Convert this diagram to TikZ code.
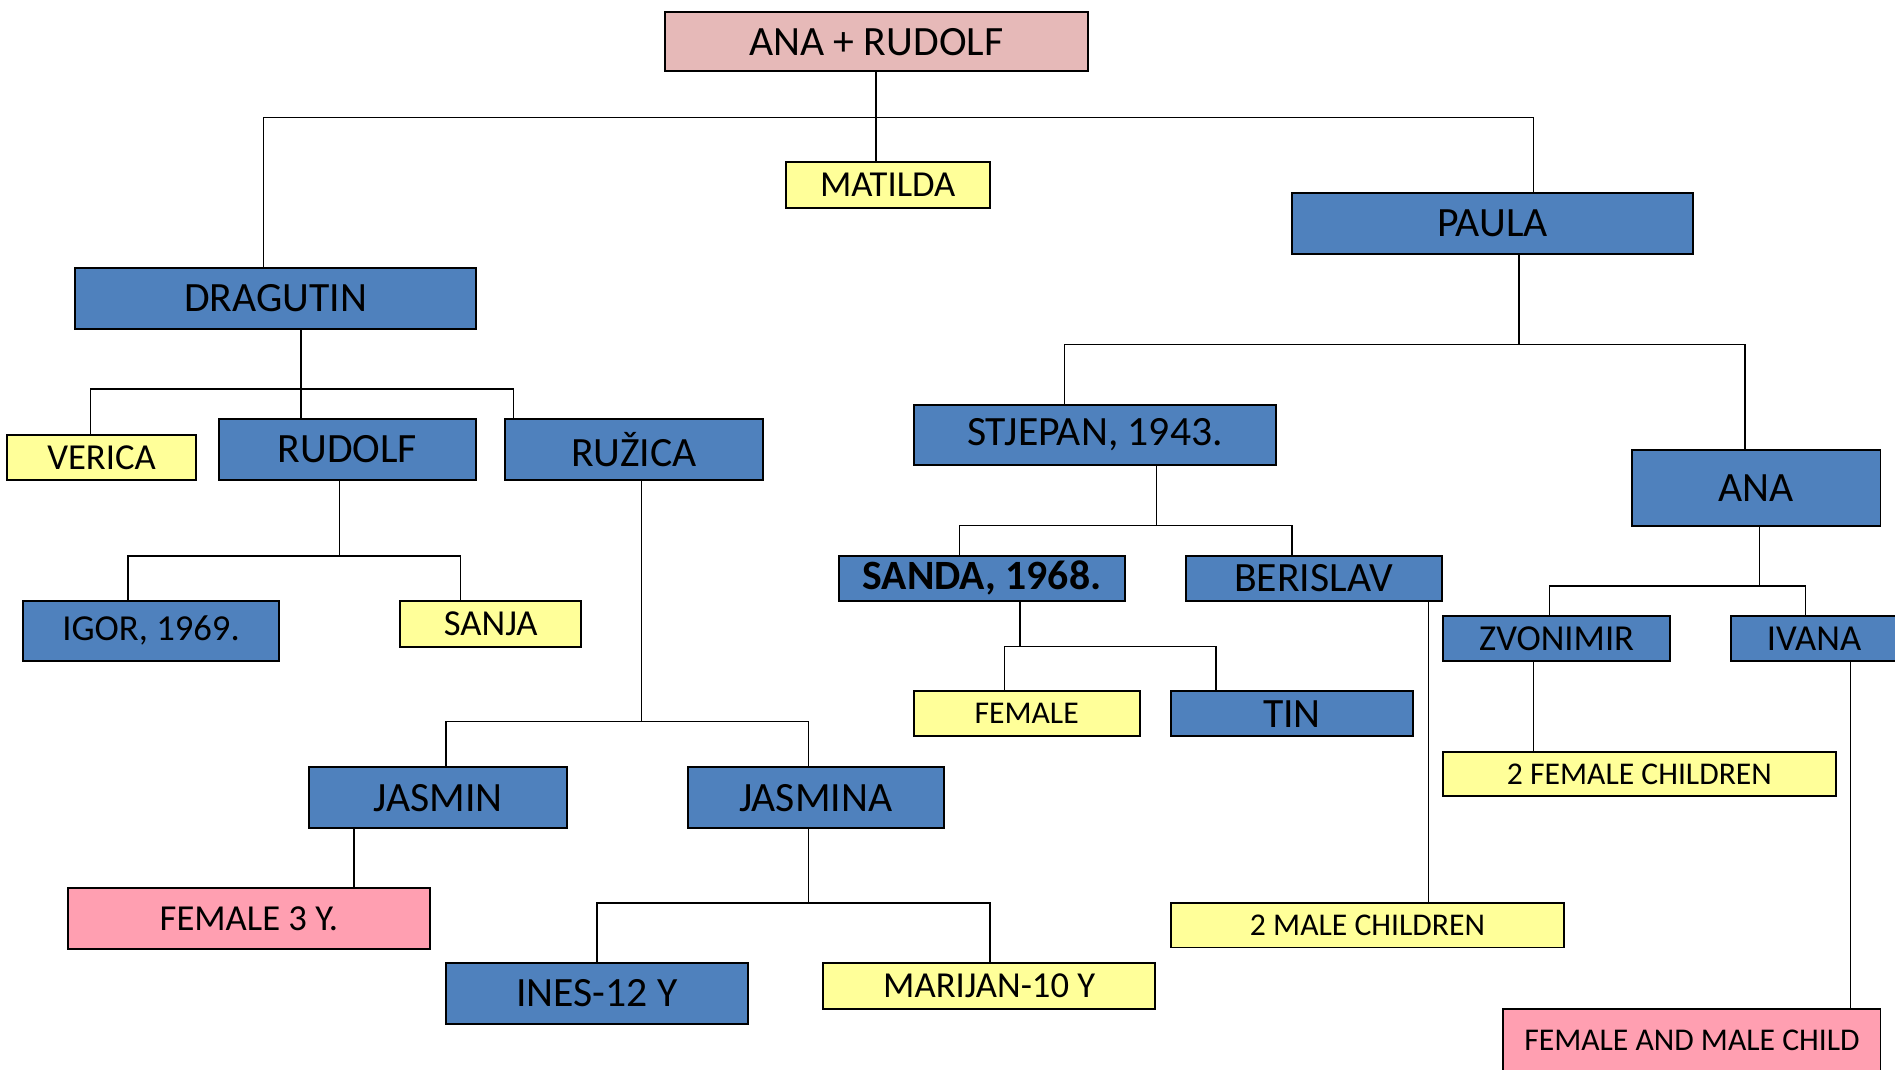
\documentclass[tikz,border=0pt]{standalone}
\usepackage{fontspec}
\setmainfont{Carlito}
\definecolor{famblue}{HTML}{4F81BD}
\definecolor{famyellow}{HTML}{FFFF99}
\definecolor{famrose}{HTML}{E6B9B8}
\definecolor{fampink}{HTML}{FF9FB1}
\tikzset{
  person/.style={draw=black, line width=1.6pt, inner sep=0pt, align=center, text=black},
  bluebox/.style={person, fill=famblue},
  yelbox/.style={person, fill=famyellow},
  pinkbox/.style={person, fill=fampink},
  rosebox/.style={person, fill=famrose},
  big/.style={font=\fontsize{34.5}{40}\selectfont},
  mid/.style={font=\fontsize{30.3}{36}\selectfont},
  sml/.style={font=\fontsize{26.2}{31}\selectfont},
  link/.style={line width=1.2pt}
}
\begin{document}
\begin{tikzpicture}[x=1pt, y=-1pt]
    \useasboundingbox (0,0) rectangle (1568,885);
    % Parents and first generation
    \node[rosebox, big, minimum width=350, minimum height=49] (anarud) at (725,34.5) {ANA + RUDOLF};
    \node[yelbox, mid, minimum width=169, minimum height=38] (matilda) at (734.5,153) {MATILDA};
    \node[bluebox, big, minimum width=332, minimum height=50] (dragutin) at (228,247) {DRAGUTIN};
    \node[bluebox, big, minimum width=332, minimum height=50] (paula) at (1235,185) {PAULA};
    % Dragutin's side
    \node[yelbox, mid, minimum width=156, minimum height=37] (verica) at (84,378.5) {VERICA};
    \node[bluebox, big, minimum width=213, minimum height=50] (rudolf) at (287.5,372) {RUDOLF};
    \node[bluebox, big, minimum width=213, minimum height=50] (ruzica) at (524.5,372) {RUŽICA};
    \node[bluebox, mid, minimum width=212, minimum height=50] (igor) at (125,522) {IGOR, 1969.};
    \node[yelbox, mid, minimum width=150, minimum height=38] (sanja) at (406,516) {SANJA};
    \node[bluebox, big, minimum width=213, minimum height=50] (jasmin) at (362.5,660) {JASMIN};
    \node[bluebox, big, minimum width=212, minimum height=50] (jasmina) at (675,660) {JASMINA};
    \node[pinkbox, mid, minimum width=300, minimum height=50] (femthree) at (206,760) {FEMALE 3 Y.};
    \node[bluebox, big, minimum width=250, minimum height=50] (ines) at (494,822) {INES-12 Y};
    \node[yelbox, mid, minimum width=275, minimum height=38] (marijan) at (818.5,816) {MARIJAN-10 Y};
    % Paula's side
    \node[bluebox, big, minimum width=300, minimum height=50] (stjepan) at (906,360) {STJEPAN, 1943.};
    \node[bluebox, big, minimum width=206, minimum height=63] (ana) at (1453,403.5) {ANA};
    \node[bluebox, big, minimum width=237, minimum height=37, font=\fontsize{34.5}{40}\selectfont\bfseries] (sanda) at (812.5,478.5) {SANDA, 1968.};
    \node[bluebox, big, minimum width=212, minimum height=37] (berislav) at (1087,478.5) {BERISLAV};
    \node[yelbox, sml, minimum width=187, minimum height=37] (female) at (849.5,590.5) {FEMALE};
    \node[bluebox, big, minimum width=200, minimum height=37] (tin) at (1069,590.5) {TIN};
    \node[yelbox, sml, minimum width=325, minimum height=37] (twomale) at (1131.5,765.5) {2 MALE CHILDREN};
    \node[bluebox, mid, minimum width=188, minimum height=37] (zvonimir) at (1288,528.5) {ZVONIMIR};
    \node[bluebox, mid, minimum width=138, minimum height=37] (ivana) at (1501,528.5) {IVANA};
    \node[yelbox, sml, minimum width=325, minimum height=37] (twofemale) at (1356.5,640.5) {2 FEMALE CHILDREN};
    \node[pinkbox, sml, minimum width=312, minimum height=52] (femmale) at (1400,861) {FEMALE AND MALE CHILD};

    % Top level
    \coordinate (topJ) at (725,97);
    \draw[link] (anarud.south) -- (anarud.south |- matilda.north);
    \draw[link] ([xshift=-10pt]dragutin.north) |- (topJ) -| ([xshift=34pt]paula.north);
    % Dragutin
    \coordinate (dragJ) at (249,322);
    \draw[link] (dragJ |- dragutin.south) -- (dragJ |- rudolf.north);
    \draw[link] ([xshift=-9pt]verica.north) |- (dragJ) -| ([xshift=-99.5pt]ruzica.north);
    % Rudolf
    \coordinate (rudJ) at (281,460);
    \draw[link] (rudJ |- rudolf.south) -- (rudJ);
    \draw[link] ([xshift=-19pt]igor.north) |- (rudJ) -| ([xshift=-25pt]sanja.north);
    % Ruzica
    \coordinate (ruzJ) at (531,597);
    \draw[link] (ruzJ |- ruzica.south) -- (ruzJ);
    \draw[link] ([xshift=6.5pt]jasmin.north) |- (ruzJ) -| ([xshift=-6pt]jasmina.north);
    % Jasmin, Jasmina
    \draw[link] ([xshift=87pt]femthree.north) -- ([xshift=87pt]femthree.north |- jasmin.south);
    \coordinate (jasJ) at (669,747);
    \draw[link] (jasJ |- jasmina.south) -- (jasJ);
    \draw[link] (ines.north) |- (jasJ) -| ([xshift=0.5pt]marijan.north);
    % Paula
    \coordinate (paulaJ) at (1257,285);
    \draw[link] (paulaJ |- paula.south) -- (paulaJ);
    \draw[link] ([xshift=-25pt]stjepan.north) |- (paulaJ) -| ([xshift=-9pt]ana.north);
    % Stjepan
    \coordinate (stjJ) at (957,435);
    \draw[link] (stjJ |- stjepan.south) -- (stjJ);
    \draw[link] ([xshift=-18.5pt]sanda.north) |- (stjJ) -| ([xshift=-18pt]berislav.north);
    % Sanda, Berislav
    \coordinate (sanJ) at (844,535);
    \draw[link] (sanJ |- sanda.south) -- (sanJ);
    \draw[link] ([xshift=-18.5pt]female.north) |- (sanJ) -| ([xshift=-63pt]tin.north);
    \draw[link] ([xshift=50.5pt]twomale.north) -- ([xshift=50.5pt]twomale.north |- berislav.south);
    % Ana
    \coordinate (anaJ) at (1456,485);
    \draw[link] (anaJ |- ana.south) -- (anaJ);
    \draw[link] ([xshift=-6pt]zvonimir.north) |- (anaJ) -| ([xshift=-7pt]ivana.north);
    \draw[link] ([xshift=-87.5pt]twofemale.north) -- ([xshift=-87.5pt]twofemale.north |- zvonimir.south);
    \draw[link] ([xshift=131pt]femmale.north) -- ([xshift=131pt]femmale.north |- ivana.south);
\end{tikzpicture}
\end{document}
